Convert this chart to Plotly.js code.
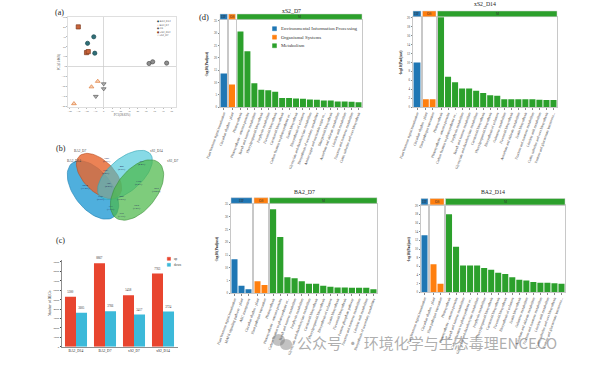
<!DOCTYPE html>
<html><head><meta charset="utf-8">
<script src="https://cdn.plot.ly/plotly-3.0.1.min.js"></script>
<style>body{margin:0;background:#fff}#chart{width:600px;height:378px}</style>
</head><body><div id="chart"></div>
<script>
// ---------------- DATA ----------------
// (a) PCA
const pcaGroups = ['BA2_D14','BA2_D7','CK','xS2_D14','xS2_D7'];
const pcaX_BA2_D14 = [-11.7,-19.0,-10.5];
const pcaY_BA2_D14 = [30.0,23.4,13.4];
const pcaX_BA2_D7 = [-7.0,-14.4,-35.0];
const pcaY_BA2_D7 = [-15.0,-20.6,-37.6];
const pcaX_CK = [53.3,57.6,74.0];
const pcaY_CK = [3.0,4.7,3.4];
const pcaX_xS2_D14 = [-29.9,-20.2,-18.2];
const pcaY_xS2_D14 = [40.0,14.0,15.0];
const pcaX_xS2_D7 = [0.0,0.0,-9.3];
const pcaY_xS2_D7 = [-17.6,-22.6,-30.3];
const pcaXTitle = 'PC1(28.83%)';
const pcaYTitle = 'PC2(13.06%)';

// (b) Venn
const vennSets = ['BA2_D14','BA2_D7','xS2_D14','xS2_D7'];
const vennCounts = ['1286<br>(6.5%)','1623<br>(8.2%)','492<br>(2.5%)','871<br>(4.4%)','2214<br>(11.2%)','386<br>(2.0%)','1168<br>(5.9%)','1107<br>(5.6%)','3206<br>(16.2%)','1975<br>(10.0%)','612<br>(3.1%)','1419<br>(7.2%)','733<br>(3.7%)'];

// (c) DEGs
const degSamples = ['BA2_D14','BA2_D7','xS2_D7','xS2_D14'];
const degUp = [5300,8867,5458,7763];
const degDown = [3605,3766,3417,3724];

// (d) KEGG enrichment
const categories = ['Environmental Information Processing','Organismal Systems','Metabolism'];
const stripLabels = ['EIP','OS','M'];

const xs2d7_eipNames = ['Plant hormone signal transduction'];
const xs2d7_eipVals = [13.7];
const xs2d7_osNames = ['Circadian rhythm - plant'];
const xs2d7_osVals = [9.2];
const xs2d7_mNames = ['Photosynthesis','Photosynthesis - antenna proteins','Starch and sucrose metabolism','Phenylpropanoid biosynthesis','Porphyrin metabolism','Flavonoid biosynthesis','Carotenoid biosynthesis','Carbon fixation in photosynthetic or...','Zeatin biosynthesis','Biosynthesis of cofactors','Glyoxylate and dicarboxylate metabolism','Biosynthesis of secondary metabolites','Amino sugar and nucleotide sugar m...','Diterpenoid biosynthesis','Ascorbate and aldarate metabolism','Linoleic acid metabolism','Fructose and mannose metabolism','Cutin, suberine and wax biosynthesis'];
const xs2d7_mVals = [30.6,22.7,9.7,7.1,6.9,6.3,3.8,3.8,3.6,3.5,3.2,3.1,2.8,2.7,2.3,2.3,2.2,2.0];

const xs2d14_eipNames = ['Plant hormone signal transduction'];
const xs2d14_eipVals = [10.0];
const xs2d14_osNames = ['Circadian rhythm - plant','Plant-pathogen interaction'];
const xs2d14_osVals = [1.8,1.8];
const xs2d14_mNames = ['Photosynthesis','Photosynthesis - antenna proteins','Carbon fixation in photosynthetic or...','Porphyrin metabolism','Starch and sucrose metabolism','Glyoxylate and dicarboxylate metabolism','Carotenoid biosynthesis','Phenylpropanoid biosynthesis','Biosynthesis of cofactors','Galactose metabolism','Flavonoid biosynthesis','Ascorbate and aldarate metabolism','Zeatin biosynthesis','Fructose and mannose metabolism','Linoleic acid metabolism','Cutin, suberine and wax biosynthesis','Pentose and glucuronate interconve...'];
const xs2d14_mVals = [20.1,6.8,5.6,4.2,4.2,3.7,3.2,2.7,2.6,1.8,1.8,1.8,1.8,1.8,1.7,1.6,1.6];

const ba2d7_eipNames = ['Plant hormone signal transduction','MAPK signaling pathway - plant','ABC transporters'];
const ba2d7_eipVals = [13.4,3.0,1.6];
const ba2d7_osNames = ['Circadian rhythm - plant','Plant-pathogen interaction'];
const ba2d7_osVals = [4.7,3.3];
const ba2d7_mNames = ['Photosynthesis','Photosynthesis - antenna proteins','Carbon fixation in photosynthetic or...','Starch and sucrose metabolism','Porphyrin metabolism','Glyoxylate and dicarboxylate metabolism','Carotenoid biosynthesis','Phenylpropanoid biosynthesis','Biosynthesis of cofactors','Zeatin biosynthesis','Flavonoid biosynthesis','Pentose phosphate pathway','Fructose and mannose metabolism','Linoleic acid metabolism','Biosynthesis of secondary metabolites'];
const ba2d7_mVals = [33.0,22.1,6.3,5.9,4.7,3.7,3.7,3.0,2.6,2.3,2.3,2.2,2.2,2.2,1.6];

const ba2d14_eipNames = ['Plant hormone signal transduction'];
const ba2d14_eipVals = [13.2];
const ba2d14_osNames = ['Circadian rhythm - plant','Plant-pathogen interaction'];
const ba2d14_osVals = [6.5,2.0];
const ba2d14_mNames = ['Photosynthesis','Photosynthesis - antenna proteins','Starch and sucrose metabolism','Carbon fixation in photosynthetic or...','Glyoxylate and dicarboxylate metabolism','Porphyrin metabolism','Phenylpropanoid biosynthesis','Carotenoid biosynthesis','Flavonoid biosynthesis','Biosynthesis of cofactors','Zeatin biosynthesis','Galactose metabolism','Ascorbate and aldarate metabolism','Fructose and mannose metabolism','Linoleic acid metabolism','Cutin, suberine and wax biosynthesis','Pentose and glucuronate interconve...'];
const ba2d14_mVals = [18.0,10.5,6.2,6.2,6.2,5.6,5.2,4.5,4.2,3.5,2.9,2.7,2.4,2.2,2.2,2.1,2.0];

// ---------------- HELPERS / STYLE ----------------
const W = 600, H = 378;
const serif = 'Liberation Serif, "Times New Roman", serif';
const px = v => v / W;
const py = v => 1 - v / H;
const dX = (a, b) => [px(a), px(b)];
const dY = (top, bot) => [py(bot), py(top)];
const axKey = (c, n) => c + 'axis' + (n === 1 ? '' : n);
const axRef = (c, n) => c + (n === 1 ? '' : n);

const traces = [];
const layout = {
  width: W, height: H, margin: {l:0,r:0,t:0,b:0},
  paper_bgcolor: '#fff', plot_bgcolor: 'rgba(0,0,0,0)',
  showlegend: false, font: {family: serif, color: '#222'},
  bargap: 0.24, bargroupgap: 0, barmode: 'group',
  shapes: [], annotations: []
};
function ann(o) { layout.annotations.push(Object.assign({showarrow:false, xref:'paper', yref:'paper'}, o)); }
function rect(x0,x1,y0,y1,fill,line,lw) {
  layout.shapes.push({type:'rect', xref:'paper', yref:'paper', x0:px(x0), x1:px(x1), y0:py(y1), y1:py(y0), fillcolor:fill, line:{color:line||fill, width:lw===undefined?0.5:lw}});
}

// panel letters
ann({x:px(53), y:py(12), text:'(a)', font:{size:8}, xanchor:'left', yanchor:'middle'});
ann({x:px(54), y:py(148), text:'(b)', font:{size:8}, xanchor:'left', yanchor:'middle'});
ann({x:px(54), y:py(240), text:'(c)', font:{size:8}, xanchor:'left', yanchor:'middle'});
ann({x:px(197), y:py(17), text:'(d)', font:{size:8.5}, xanchor:'left', yanchor:'middle'});

// ---------------- (a) PCA ----------------
const pcaStyle = {
  'BA2_D14': {symbol:'circle', color:'#2f6f78', line:'#1c4a50', glyph:'●'},
  'BA2_D7': {symbol:'triangle-up', color:'#f6d2b8', line:'#e07b39', glyph:'△'},
  'CK': {symbol:'circle', color:'#8e8e8e', line:'#4e4e4e', glyph:'●'},
  'xS2_D14': {symbol:'square', color:'#c9643a', line:'#7d3a1e', glyph:'■'},
  'xS2_D7': {symbol:'triangle-down', color:'#b3b3b3', line:'#5f5f5f', glyph:'▽'}
};
const pcaData = {
  'BA2_D14':[pcaX_BA2_D14,pcaY_BA2_D14], 'BA2_D7':[pcaX_BA2_D7,pcaY_BA2_D7], 'CK':[pcaX_CK,pcaY_CK],
  'xS2_D14':[pcaX_xS2_D14,pcaY_xS2_D14], 'xS2_D7':[pcaX_xS2_D7,pcaY_xS2_D7]
};
pcaGroups.forEach(g => {
  const s = pcaStyle[g];
  traces.push({type:'scatter', mode:'markers', x:pcaData[g][0], y:pcaData[g][1], xaxis:'x', yaxis:'y', name:g,
    marker:{symbol:s.symbol, size:4.2, color:s.color, line:{color:s.line, width:0.7}}, cliponaxis:false});
});
const pcaAx = {showline:true, mirror:true, linecolor:'#c9c9c9', linewidth:0.6, ticks:'outside', ticklen:1.2, tickcolor:'#bbb',
  tickfont:{size:2.6, color:'#666'}, zeroline:true, zerolinecolor:'#c9c9c9', zerolinewidth:0.7, showgrid:false};
layout.xaxis = Object.assign({}, pcaAx, {domain:dX(68,176), range:[-42,85], dtick:10, anchor:'y',
  title:{text:pcaXTitle, font:{size:3, color:'#555'}, standoff:1}});
layout.yaxis = Object.assign({}, pcaAx, {domain:dY(17,107), range:[-41,50], dtick:10, anchor:'x',
  title:{text:pcaYTitle, font:{size:3, color:'#555'}, standoff:1}});
pcaGroups.forEach((g,i) => {
  const s = pcaStyle[g];
  ann({x:px(155), y:py(21.5 + i*3.6), text:'<span style="color:'+s.line+'">'+s.glyph+'</span> '+g, font:{size:2.4, color:'#555', family:'DejaVu Sans'}, xanchor:'left', yanchor:'middle'});
});

// ---------------- (b) Venn ----------------
layout.xaxis2 = {domain:dX(58,176), range:[58,176], visible:false, anchor:'y2', fixedrange:true};
layout.yaxis2 = {domain:dY(145,238), range:[238,145], visible:false, anchor:'x2', fixedrange:true};
const vennShapes = [
  {cx:93, cy:190, a:34, b:19, ang:52, fill:'rgba(40,158,214,0.82)', line:'#1f7fb0'},
  {cx:99, cy:176, a:28, b:15.5, ang:45, fill:'rgba(230,102,48,0.82)', line:'#b94c1e'},
  {cx:125, cy:175, a:33, b:16.5, ang:-40, fill:'rgba(62,196,214,0.62)', line:'#2ea3b3'},
  {cx:137, cy:190, a:35, b:20, ang:-52, fill:'rgba(76,184,74,0.72)', line:'#3a8f38'}
];
vennShapes.forEach((e, k) => {
  const xs = [], ys = [];
  const th = e.ang * Math.PI / 180;
  for (let i = 0; i <= 72; i++) {
    const t = i / 72 * 2 * Math.PI;
    const u = e.a * Math.cos(t), v = e.b * Math.sin(t);
    xs.push(e.cx + u * Math.cos(th) - v * Math.sin(th));
    ys.push(e.cy + u * Math.sin(th) + v * Math.cos(th));
  }
  traces.push({type:'scatter', mode:'lines', x:xs, y:ys, xaxis:'x2', yaxis:'y2', fill:'toself', fillcolor:e.fill,
    line:{color:e.line, width:0.6}, name:vennSets[k], hoverinfo:'skip'});
});
const vennLabelPos = [[80,151,'right'],[74,161,'right'],[148,151,'left'],[165,161,'left']];
const vennSetOrder = ['BA2_D7','BA2_D14','xS2_D14','xS2_D7'];
vennSetOrder.forEach((s,i) => {
  const p = vennLabelPos[i];
  ann({xref:'x2', yref:'y2', x:p[0], y:p[1], text:s, font:{size:3.4, color:'#444'}, xanchor:p[2]==='right'?'center':'left', yanchor:'middle'});
});
const vennCountPos = [[106.7,160],[105,171.7],[121.7,168.3],[141.7,163.3],[85,186.7],[108.3,185],[138.3,183.3],[100,198],[121.7,198],[156.7,190],[121.7,215],[136.7,206.7],[110,208]];
vennCounts.forEach((c,i) => {
  ann({xref:'x2', yref:'y2', x:vennCountPos[i][0], y:vennCountPos[i][1], text:c, font:{size:2.6, color:'#1e2a5a'}, xanchor:'center', yanchor:'middle'});
});

// ---------------- (c) DEG bars ----------------
traces.push({type:'bar', x:degSamples, y:degUp, xaxis:'x3', yaxis:'y3', name:'up', marker:{color:'#e8452f'},
  text:degUp.map(String), textposition:'outside', textfont:{size:3, color:'#333'}, constraintext:'none', cliponaxis:false});
traces.push({type:'bar', x:degSamples, y:degDown, xaxis:'x3', yaxis:'y3', name:'down', marker:{color:'#3cb9d9'},
  text:degDown.map(String), textposition:'outside', textfont:{size:3, color:'#333'}, constraintext:'none', cliponaxis:false});
layout.xaxis3 = {domain:dX(61.5,177.5), anchor:'y3', type:'category', showline:true, linecolor:'#444', linewidth:0.6,
  ticks:'', tickfont:{size:3.6, color:'#222'}, showgrid:false, zeroline:false};
layout.yaxis3 = {domain:dY(260,346.7), anchor:'x3', range:[0,9200], dtick:1000, showline:true, linecolor:'#444', linewidth:0.6,
  ticks:'outside', ticklen:1.3, tickcolor:'#444', tickfont:{size:2.8, color:'#333'}, showgrid:false, zeroline:false,
  title:{text:'Number of DEGs', font:{size:3.6, color:'#222'}, standoff:1}};
rect(167.3,170.5,257.3,260.3,'#e8452f');
rect(167.3,170.5,263.3,266.3,'#3cb9d9');
ann({x:px(171.5), y:py(258.8), text:'up', font:{size:3.2, color:'#333'}, xanchor:'left', yanchor:'middle'});
ann({x:px(171.5), y:py(264.8), text:'down', font:{size:3.2, color:'#333'}, xanchor:'left', yanchor:'middle'});

// ---------------- (d) KEGG panels ----------------
const catColors = ['#1f77b4','#ff7f0e','#2ca02c'];
const panels = [
  {title:'xS2_D7', data:[[xs2d7_eipNames,xs2d7_eipVals],[xs2d7_osNames,xs2d7_osVals],[xs2d7_mNames,xs2d7_mVals]]},
  {title:'xS2_D14', data:[[xs2d14_eipNames,xs2d14_eipVals],[xs2d14_osNames,xs2d14_osVals],[xs2d14_mNames,xs2d14_mVals]]},
  {title:'BA2_D7', data:[[ba2d7_eipNames,ba2d7_eipVals],[ba2d7_osNames,ba2d7_osVals],[ba2d7_mNames,ba2d7_mVals]]},
  {title:'BA2_D14', data:[[ba2d14_eipNames,ba2d14_eipVals],[ba2d14_osNames,ba2d14_osVals],[ba2d14_mNames,ba2d14_mVals]]}
];
const geom = [
  {fx:[[220,227.5],[228.5,235.5],[237,362]], top:20, bot:107.3, strip:14, titleY:10.5, ymax:35.3, dtick:5, ytx:207},
  {fx:[[413,421],[422.5,436],[437.5,557]], top:17.3, bot:107.3, strip:11, titleY:4.5, ymax:20.05, dtick:2, ytx:401},
  {fx:[[231,252],[254,268],[269.5,377]], top:204, bot:293.3, strip:197.7, titleY:192.3, ymax:35.05, dtick:5, ytx:217},
  {fx:[[421,428],[430,444],[445.5,565]], top:205.5, bot:292.3, strip:198.5, titleY:192.3, ymax:20.05, dtick:2, ytx:409}
];
panels.forEach((p, pi) => {
  const g = geom[pi];
  p.data.forEach((fd, f) => {
    const n = 4 + pi * 3 + f;
    traces.push({type:'bar', x:fd[0], y:fd[1], xaxis:axRef('x',n), yaxis:axRef('y',n), width:0.86,
      marker:{color:catColors[f], line:{width:0}}, name:categories[f]});
    layout[axKey('x',n)] = {domain:dX(g.fx[f][0], g.fx[f][1]), anchor:axRef('y',n), type:'category',
      showline:true, mirror:true, linecolor:'#c8c8c8', linewidth:1.1, ticks:'outside', ticklen:1.3, tickcolor:'#888',
      tickangle:-70, tickfont:{size:3.6, color:'#333'}, showgrid:false, zeroline:false, range:[-0.5, fd[0].length-0.5]};
    layout[axKey('y',n)] = {domain:dY(g.top, g.bot), anchor:axRef('x',n), range:[0,g.ymax], dtick:g.dtick,
      showline:true, mirror:true, linecolor:'#c8c8c8', linewidth:1.1, ticks:f===0?'outside':'', ticklen:1.3, tickcolor:'#888',
      showticklabels:f===0, tickfont:{size:3.1, color:'#444'}, showgrid:false, zeroline:false};
    rect(g.fx[f][0], g.fx[f][1], g.strip, g.top - 0.6, catColors[f], '#d6d6d6', 0.5);
    ann({x:px((g.fx[f][0] + g.fx[f][1]) / 2), y:py((g.strip + g.top) / 2), text:stripLabels[f],
      font:{size:3.3, color:'#333'}, xanchor:'center', yanchor:'middle'});
  });
  ann({x:px((g.fx[0][0] + g.fx[2][1]) / 2), y:py(g.titleY), text:p.title, font:{size:5.8, color:'#222'}, xanchor:'center', yanchor:'middle'});
  ann({x:px(g.ytx), y:py((g.top + g.bot) / 2), text:'<b>-log10(Padjust)</b>', textangle:-90, font:{size:3.8, color:'#222'}, xanchor:'center', yanchor:'middle'});
});
// legend for (d)
categories.forEach((c, i) => {
  const yy = 28.7 + i * 8.5;
  rect(272.5, 276.5, yy - 2, yy + 2, catColors[i]);
  ann({x:px(278.5), y:py(yy), text:c, font:{size:4.9, color:'#333'}, xanchor:'left', yanchor:'middle'});
});

// watermark
layout.shapes.push({type:'circle', xref:'paper', yref:'paper', x0:px(272), x1:px(285), y0:py(346), y1:py(334), fillcolor:'rgba(120,120,120,0.45)', line:{width:0}});
layout.shapes.push({type:'circle', xref:'paper', yref:'paper', x0:px(280), x1:px(292), y0:py(350), y1:py(339), fillcolor:'rgba(120,120,120,0.45)', line:{width:0}});
ann({x:px(295), y:py(342), text:'公众号 · 环境化学与生态毒理ENCECO', font:{size:15, color:'rgba(105,105,105,0.55)', family:'Noto Sans CJK SC'}, xanchor:'left', yanchor:'middle'});

Plotly.newPlot('chart', traces, layout, {staticPlot:true, displayModeBar:false});
</script>
</body></html>
